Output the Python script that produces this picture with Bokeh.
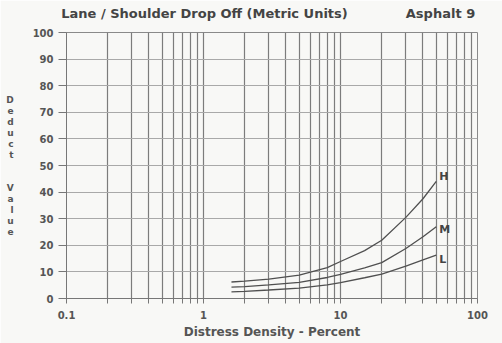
from bokeh.plotting import figure
from bokeh.models import FixedTicker, Range1d, LinearAxis, LinearScale
from bokeh.core.properties import value
from bokeh.embed import file_html
from bokeh.resources import INLINE

title_left = "Lane / Shoulder Drop Off (Metric Units)"
title_right = "Asphalt 9"
x_label = "Distress Density - Percent"
y_label = "Deduct Value"

density = [1.6, 2, 3, 5, 8, 10, 15, 20, 30, 40, 50]
high = [6.2, 6.5, 7.3, 8.8, 11.6, 13.9, 18.0, 21.9, 30.5, 37.5, 44.0]
medium = [4.3, 4.5, 5.1, 6.1, 7.9, 9.1, 11.5, 13.5, 18.8, 23.2, 27.0]
low = [2.5, 2.7, 3.2, 3.9, 5.1, 6.0, 7.8, 9.2, 12.2, 14.5, 16.3]
severity = ["H", "M", "L"]

x_ticks = [0.1, 1, 10, 100]
x_tick_labels = ["0.1", "1", "10", "100"]
y_ticks = [0, 10, 20, 30, 40, 50, 60, 70, 80, 90, 100]

FONT = "DejaVu Sans"
INK = "#444444"
PAPER = "#f8f8f6"
FW, FH = 411, 266

p = figure(
    x_axis_type="log",
    x_range=Range1d(0.1, 100),
    y_range=Range1d(0, 100),
    frame_width=FW, frame_height=FH,
    min_border_left=66, min_border_right=25,
    min_border_top=32, min_border_bottom=45,
    output_backend="svg", toolbar_location=None,
    background_fill_color=PAPER, border_fill_color=PAPER,
    outline_line_color="#8a8a8a",
)

minor = [m * d for d in x_ticks[:-1] for m in range(2, 10)]
p.xaxis.ticker = FixedTicker(ticks=x_ticks, minor_ticks=minor)
p.xaxis.major_label_overrides = {t: s for t, s in zip(x_ticks, x_tick_labels)}
p.yaxis.ticker = FixedTicker(ticks=y_ticks)

for ax in (p.xaxis, p.yaxis):
    ax.axis_line_color = "#777777"
    ax.major_tick_line_color = "#777777"
    ax.minor_tick_line_color = "#777777"
    ax.major_label_text_font = FONT
    ax.major_label_text_font_style = "bold"
    ax.major_label_text_font_size = "10px"
    ax.major_label_text_color = "#555555"
    ax.axis_label_text_font = FONT
    ax.axis_label_text_font_style = "bold"
    ax.axis_label_text_font_size = "12px"
    ax.axis_label_text_color = "#555555"

p.xaxis.major_tick_in = 0
p.xaxis.major_tick_out = 5
p.xaxis.minor_tick_in = 0
p.xaxis.minor_tick_out = 5
p.xaxis.major_label_standoff = 7
p.xaxis.axis_label = x_label
p.xaxis.axis_label_standoff = 3

p.yaxis.major_tick_in = 0
p.yaxis.major_tick_out = 8
p.yaxis.minor_tick_line_color = None
p.yaxis.major_label_standoff = 5

# Stacked (upright letters) y-axis label
stacked = "\n".join(y_label.split(" ")[0]) + "\n\n\n" + "\n".join(y_label.split(" ")[1])
try:
    p.yaxis.axis_label = stacked
    p.yaxis.axis_label_orientation = "horizontal"
    p.yaxis.axis_label_text_font_size = "9px"
    p.yaxis.axis_label_text_line_height = 1.1
    p.yaxis.axis_label_standoff = 16
except Exception:
    p.yaxis.axis_label = y_label

p.xgrid.grid_line_color = "#7c7c7c"
p.xgrid.grid_line_width = 1.2
p.xgrid.minor_grid_line_color = "#7c7c7c"
p.xgrid.minor_grid_line_width = 1.2
p.ygrid.grid_line_color = "#a9a9a9"
p.ygrid.grid_line_width = 1.0

curve_color = "#505050"
label_offsets = [1.8, -1.2, -1.6]
for name, ys, dy in zip(severity, [high, medium, low], label_offsets):
    p.line(density, ys, line_color=curve_color, line_width=1.3)
    p.text(x=[density[-1] * 1.05], y=[ys[-1] + dy], text=[name],
           text_font=value(FONT), text_font_style="bold",
           text_font_size="11px", text_color=INK,
           text_align="left", text_baseline="middle")

# Header line: two texts on one row above the frame (pixel range across the frame)
p.extra_x_ranges = {"header": Range1d(0, FW)}
p.extra_x_scales = {"header": LinearScale()}
head_pos = [204 - 66, 440 - 66]
header = LinearAxis(x_range_name="header",
                    ticker=FixedTicker(ticks=head_pos, minor_ticks=[]))
header.major_label_overrides = {head_pos[0]: title_left, head_pos[1]: title_right}
header.axis_line_color = None
header.major_tick_line_color = None
header.minor_tick_line_color = None
header.major_tick_out = 0
header.major_tick_in = 0
header.major_label_standoff = 12
header.major_label_text_font = FONT
header.major_label_text_font_style = "bold"
header.major_label_text_font_size = "13px"
header.major_label_text_color = INK
p.add_layout(header, "above")

open("out.html", "w").write(file_html(p, INLINE))
